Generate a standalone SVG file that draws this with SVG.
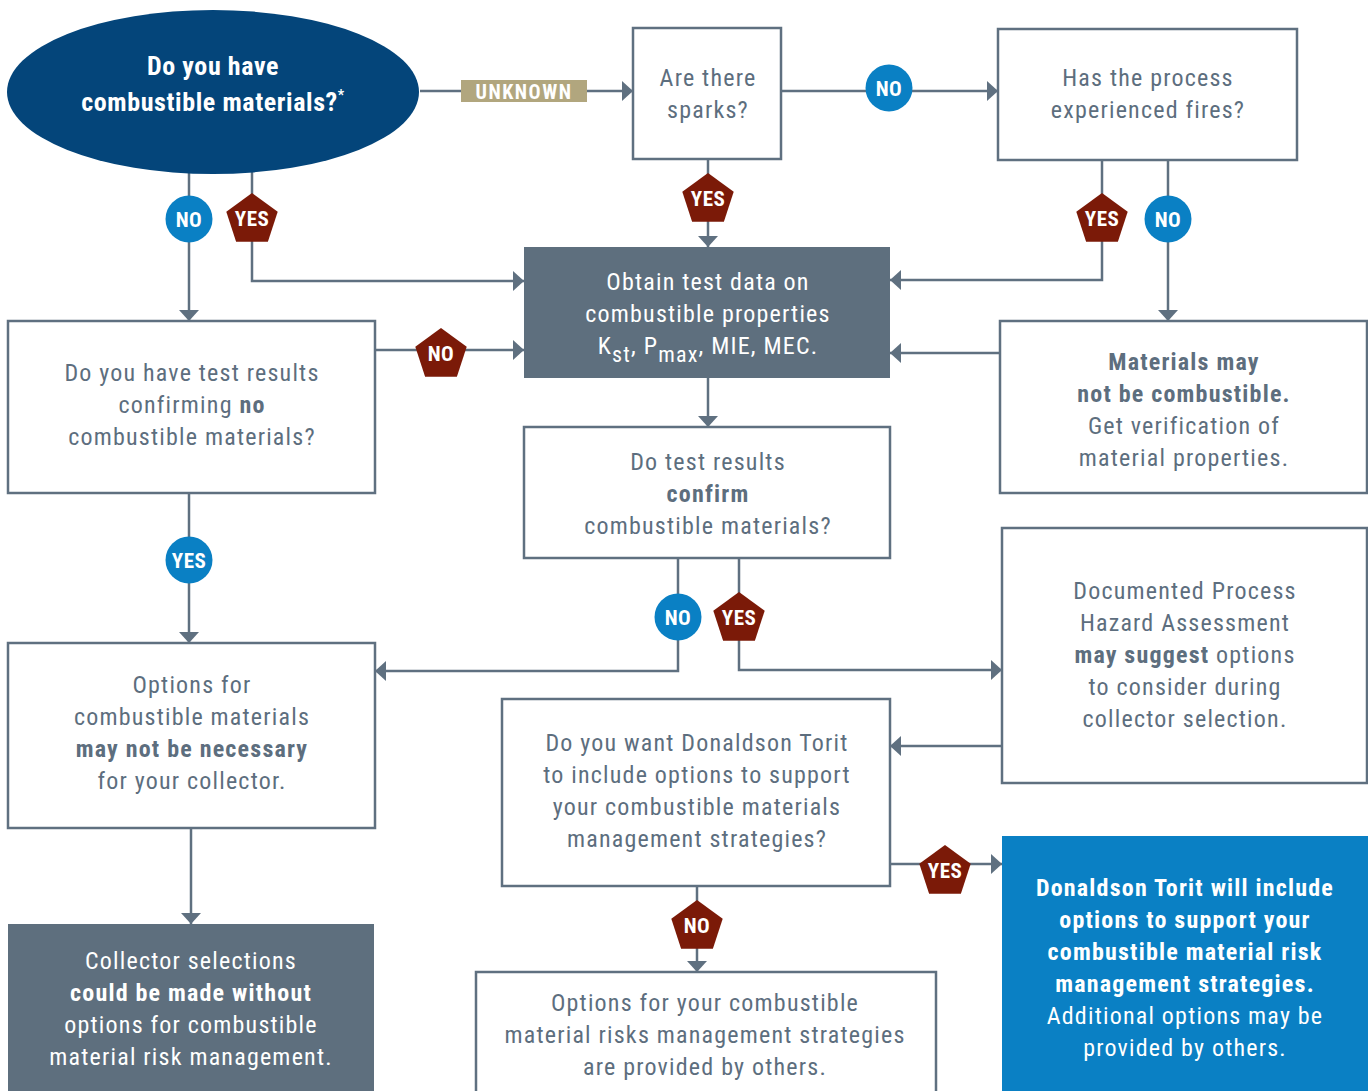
<svg xmlns="http://www.w3.org/2000/svg" width="1368" height="1091" viewBox="0 0 1368 1091">
<style>
.box{fill:#fff;stroke:#5f7080;stroke-width:2.5}
.dk{fill:#5e6f7e}
.c{stroke:#5f7080;stroke-width:2.5;fill:none}
.t{font-family:"Roboto Condensed",Roboto,"Liberation Sans",sans-serif;font-size:24px;fill:#5d6e7e;text-anchor:middle;letter-spacing:1.2px}
.b{font-weight:bold}
.w{fill:#fff}
.lbl{font-family:"Roboto Condensed",Roboto,"Liberation Sans",sans-serif;font-size:21px;font-weight:bold;fill:#fff;text-anchor:middle;letter-spacing:0.5px}
.pen{fill:#7b1a08}
.cir{fill:#0a80c4}
</style>
<defs>
<marker id="a" markerWidth="12" markerHeight="20" refX="11" refY="10" orient="auto" markerUnits="userSpaceOnUse"><path d="M0 0L11 10L0 20Z" fill="#5f7080"/></marker>
<polygon id="pg" points="0,-27 25.7,-8.3 15.9,21.8 -15.9,21.8 -25.7,-8.3"/>
</defs>

<g id="connectors">
<path class="c" d="M420 91H633" marker-end="url(#a)"/>
<path class="c" d="M781 91H998" marker-end="url(#a)"/>
<path class="c" d="M708 159V247" marker-end="url(#a)"/>
<path class="c" d="M1102 160V280H890" marker-end="url(#a)"/>
<path class="c" d="M1168 160V321" marker-end="url(#a)"/>
<path class="c" d="M1000 353H890" marker-end="url(#a)"/>
<path class="c" d="M189 170V321" marker-end="url(#a)"/>
<path class="c" d="M252 168V281H524" marker-end="url(#a)"/>
<path class="c" d="M375 350H524" marker-end="url(#a)"/>
<path class="c" d="M708 378V427" marker-end="url(#a)"/>
<path class="c" d="M189 493V643" marker-end="url(#a)"/>
<path class="c" d="M191 828V924" marker-end="url(#a)"/>
<path class="c" d="M678 558V671H375" marker-end="url(#a)"/>
<path class="c" d="M739 558V670H1002" marker-end="url(#a)"/>
<path class="c" d="M1002 746H890" marker-end="url(#a)"/>
<path class="c" d="M890 864H1002" marker-end="url(#a)"/>
<path class="c" d="M697 886V972" marker-end="url(#a)"/>
</g>

<g id="labels">
<g id="lbl-unknown"><rect x="461" y="80" width="126" height="22" fill="#b1a67e"/><text class="lbl" x="524" y="99" style="font-size:20px;letter-spacing:1.5px">UNKNOWN</text></g>
<g id="lbl-sparks-no"><circle class="cir" cx="889" cy="88" r="23.5"/><text class="lbl" x="889" y="96">NO</text></g>
<g id="lbl-sparks-yes"><use href="#pg" class="pen" x="708" y="200"/><text class="lbl" x="708" y="206">YES</text></g>
<g id="lbl-fires-yes"><use href="#pg" class="pen" x="1102" y="220"/><text class="lbl" x="1102" y="226">YES</text></g>
<g id="lbl-fires-no"><circle class="cir" cx="1168" cy="219" r="23.5"/><text class="lbl" x="1168" y="227">NO</text></g>
<g id="lbl-ell-no"><circle class="cir" cx="189" cy="219" r="23.5"/><text class="lbl" x="189" y="227">NO</text></g>
<g id="lbl-ell-yes"><use href="#pg" class="pen" x="252" y="220"/><text class="lbl" x="252" y="226">YES</text></g>
<g id="lbl-test-no"><use href="#pg" class="pen" x="441" y="355"/><text class="lbl" x="441" y="361">NO</text></g>
<g id="lbl-test-yes"><circle class="cir" cx="189" cy="560" r="23.5"/><text class="lbl" x="189" y="568">YES</text></g>
<g id="lbl-confirm-no"><circle class="cir" cx="678" cy="617" r="23.5"/><text class="lbl" x="678" y="625">NO</text></g>
<g id="lbl-confirm-yes"><use href="#pg" class="pen" x="739" y="619"/><text class="lbl" x="739" y="625">YES</text></g>
<g id="lbl-want-yes"><use href="#pg" class="pen" x="945" y="872"/><text class="lbl" x="945" y="878">YES</text></g>
<g id="lbl-want-no"><use href="#pg" class="pen" x="697" y="927"/><text class="lbl" x="697" y="933">NO</text></g>
</g>

<g id="n-start">
<ellipse cx="213" cy="92" rx="206" ry="82" fill="#04457a"/>
<text class="t b w" x="213" y="75" style="font-size:26px;letter-spacing:0.6px">Do you have</text>
<text class="t b w" x="213" y="111" style="font-size:26px;letter-spacing:0.6px">combustible materials?<tspan font-size="14" dy="-11">*</tspan></text>
</g>

<g id="n-sparks">
<rect class="box" x="633" y="28" width="148" height="131"/>
<text class="t" x="708" y="86">Are there</text>
<text class="t" x="708" y="118">sparks?</text>
</g>

<g id="n-fires">
<rect class="box" x="998" y="29" width="299" height="131"/>
<text class="t" x="1148" y="86">Has the process</text>
<text class="t" x="1148" y="118">experienced fires?</text>
</g>

<g id="n-obtain">
<rect class="dk" x="524" y="247" width="366" height="131"/>
<text class="t w" x="708" y="290">Obtain test data on</text>
<text class="t w" x="708" y="322">combustible properties</text>
<text class="t w" x="708" y="354">K<tspan font-size="22" dy="8">st</tspan><tspan dy="-8">, P</tspan><tspan font-size="22" dy="8">max</tspan><tspan dy="-8">, MIE, MEC.</tspan></text>
</g>

<g id="n-testresults">
<rect class="box" x="8" y="321" width="367" height="172"/>
<text class="t" x="192" y="381">Do you have test results</text>
<text class="t" x="192" y="413">confirming <tspan class="b">no</tspan></text>
<text class="t" x="192" y="445">combustible materials?</text>
</g>

<g id="n-materials">
<rect class="box" x="1000" y="321" width="367" height="172"/>
<text class="t b" x="1184" y="370">Materials may</text>
<text class="t b" x="1184" y="402">not be combustible.</text>
<text class="t" x="1184" y="434">Get verification of</text>
<text class="t" x="1184" y="466">material properties.</text>
</g>

<g id="n-confirm">
<rect class="box" x="524" y="427" width="366" height="131"/>
<text class="t" x="708" y="470">Do test results</text>
<text class="t b" x="708" y="502">confirm</text>
<text class="t" x="708" y="534">combustible materials?</text>
</g>

<g id="n-documented">
<rect class="box" x="1002" y="528" width="365" height="255"/>
<text class="t" x="1185" y="599">Documented Process</text>
<text class="t" x="1185" y="631">Hazard Assessment</text>
<text class="t" x="1185" y="663"><tspan class="b">may suggest</tspan> options</text>
<text class="t" x="1185" y="695">to consider during</text>
<text class="t" x="1185" y="727">collector selection.</text>
</g>

<g id="n-options">
<rect class="box" x="8" y="643" width="367" height="185"/>
<text class="t" x="192" y="693">Options for</text>
<text class="t" x="192" y="725">combustible materials</text>
<text class="t b" x="192" y="757">may not be necessary</text>
<text class="t" x="192" y="789">for your collector.</text>
</g>

<g id="n-want">
<rect class="box" x="502" y="699" width="388" height="187"/>
<text class="t" x="697" y="751">Do you want Donaldson Torit</text>
<text class="t" x="697" y="783">to include options to support</text>
<text class="t" x="697" y="815">your combustible materials</text>
<text class="t" x="697" y="847">management strategies?</text>
</g>

<g id="n-collector">
<rect class="dk" x="8" y="924" width="366" height="170"/>
<text class="t w" x="191" y="969">Collector selections</text>
<text class="t b w" x="191" y="1001">could be made without</text>
<text class="t w" x="191" y="1033">options for combustible</text>
<text class="t w" x="191" y="1065">material risk management.</text>
</g>

<g id="n-others">
<rect class="box" x="476" y="972" width="460" height="125"/>
<text class="t" x="705" y="1011">Options for your combustible</text>
<text class="t" x="705" y="1043">material risks management strategies</text>
<text class="t" x="705" y="1075">are provided by others.</text>
</g>

<g id="n-include">
<rect x="1002" y="836" width="366" height="258" fill="#0a80c4"/>
<text class="t b w" x="1185" y="896">Donaldson Torit will include</text>
<text class="t b w" x="1185" y="928">options to support your</text>
<text class="t b w" x="1185" y="960">combustible material risk</text>
<text class="t b w" x="1185" y="992">management strategies.</text>
<text class="t w" x="1185" y="1024">Additional options may be</text>
<text class="t w" x="1185" y="1056">provided by others.</text>
</g>
</svg>
